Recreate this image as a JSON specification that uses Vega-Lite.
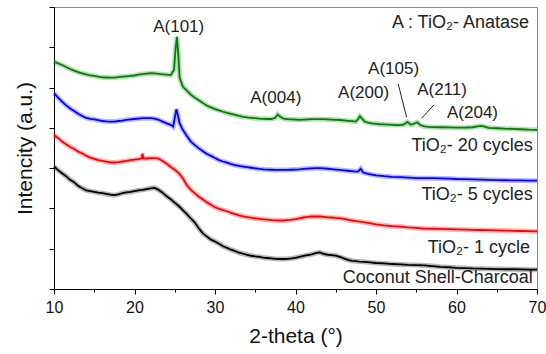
{
  "$schema": "https://vega.github.io/schema/vega-lite/v6.json",
  "width": 483,
  "height": 282,
  "autosize": {"type": "none"},
  "padding": {"left": 54, "top": 7, "right": 9, "bottom": 65},
  "background": "white",
  "config": {
    "font": "Liberation Sans",
    "view": {"stroke": "#8a8a8a", "strokeWidth": 1},
    "axis": {"domainColor": "#000", "tickColor": "#000", "labelColor": "#111", "titleColor": "#111", "grid": false, "titleFontWeight": "normal"}
  },
  "datasets": {
    "curves": [
      {"s":"k","t":10,"i":6.08},{"s":"k","t":10.5,"i":5.9},{"s":"k","t":11,"i":5.75},{"s":"k","t":11.5,"i":5.6},{"s":"k","t":12,"i":5.42},{"s":"k","t":12.5,"i":5.3},{"s":"k","t":13,"i":5.12},{"s":"k","t":13.5,"i":5.0},{"s":"k","t":14,"i":4.9},{"s":"k","t":14.5,"i":4.86},{"s":"k","t":15,"i":4.82},{"s":"k","t":15.5,"i":4.78},{"s":"k","t":16,"i":4.76},{"s":"k","t":16.5,"i":4.72},{"s":"k","t":17,"i":4.68},{"s":"k","t":17.5,"i":4.66},{"s":"k","t":18,"i":4.7},{"s":"k","t":18.5,"i":4.76},{"s":"k","t":19,"i":4.8},{"s":"k","t":19.5,"i":4.82},{"s":"k","t":20,"i":4.86},{"s":"k","t":20.5,"i":4.9},{"s":"k","t":21,"i":4.92},{"s":"k","t":21.5,"i":4.96},{"s":"k","t":22,"i":5.0},{"s":"k","t":22.5,"i":5.02},{"s":"k","t":23,"i":4.92},{"s":"k","t":23.5,"i":4.78},{"s":"k","t":24,"i":4.6},{"s":"k","t":24.5,"i":4.46},{"s":"k","t":25,"i":4.28},{"s":"k","t":25.5,"i":4.12},{"s":"k","t":26,"i":3.92},{"s":"k","t":26.5,"i":3.72},{"s":"k","t":27,"i":3.5},{"s":"k","t":27.5,"i":3.3},{"s":"k","t":28,"i":3.0},{"s":"k","t":28.5,"i":2.76},{"s":"k","t":29,"i":2.6},{"s":"k","t":29.5,"i":2.45},{"s":"k","t":30,"i":2.36},{"s":"k","t":30.5,"i":2.25},{"s":"k","t":31,"i":2.12},{"s":"k","t":31.5,"i":2.04},{"s":"k","t":32,"i":1.95},{"s":"k","t":32.5,"i":1.88},{"s":"k","t":33,"i":1.8},{"s":"k","t":33.5,"i":1.75},{"s":"k","t":34,"i":1.7},{"s":"k","t":34.5,"i":1.65},{"s":"k","t":35,"i":1.62},{"s":"k","t":35.5,"i":1.6},{"s":"k","t":36,"i":1.56},{"s":"k","t":36.5,"i":1.54},{"s":"k","t":37,"i":1.52},{"s":"k","t":37.5,"i":1.5},{"s":"k","t":38,"i":1.49},{"s":"k","t":38.5,"i":1.49},{"s":"k","t":39,"i":1.5},{"s":"k","t":39.5,"i":1.52},{"s":"k","t":40,"i":1.55},{"s":"k","t":40.5,"i":1.6},{"s":"k","t":41,"i":1.64},{"s":"k","t":41.5,"i":1.68},{"s":"k","t":42,"i":1.72},{"s":"k","t":42.5,"i":1.78},{"s":"k","t":43,"i":1.82},{"s":"k","t":43.5,"i":1.74},{"s":"k","t":44,"i":1.7},{"s":"k","t":44.5,"i":1.68},{"s":"k","t":45,"i":1.66},{"s":"k","t":45.5,"i":1.6},{"s":"k","t":46,"i":1.52},{"s":"k","t":46.5,"i":1.45},{"s":"k","t":47,"i":1.4},{"s":"k","t":47.5,"i":1.38},{"s":"k","t":48,"i":1.36},{"s":"k","t":48.5,"i":1.35},{"s":"k","t":49,"i":1.33},{"s":"k","t":49.5,"i":1.31},{"s":"k","t":50,"i":1.29},{"s":"k","t":51,"i":1.27},{"s":"k","t":52,"i":1.24},{"s":"k","t":53,"i":1.22},{"s":"k","t":54,"i":1.2},{"s":"k","t":55,"i":1.19},{"s":"k","t":56,"i":1.17},{"s":"k","t":57,"i":1.14},{"s":"k","t":58,"i":1.1},{"s":"k","t":59,"i":1.08},{"s":"k","t":60,"i":1.05},{"s":"k","t":61,"i":1.04},{"s":"k","t":62,"i":1.02},{"s":"k","t":63,"i":1.01},{"s":"k","t":64,"i":1.0},{"s":"k","t":65,"i":0.99},{"s":"k","t":66,"i":0.98},{"s":"k","t":67,"i":0.98},{"s":"k","t":68,"i":0.97},{"s":"k","t":69,"i":0.96},{"s":"k","t":70,"i":0.96},

      {"s":"r","t":10,"i":7.65},{"s":"r","t":10.5,"i":7.5},{"s":"r","t":11,"i":7.32},{"s":"r","t":11.5,"i":7.18},{"s":"r","t":12,"i":7.05},{"s":"r","t":12.5,"i":6.95},{"s":"r","t":13,"i":6.82},{"s":"r","t":13.5,"i":6.74},{"s":"r","t":14,"i":6.62},{"s":"r","t":14.5,"i":6.52},{"s":"r","t":15,"i":6.46},{"s":"r","t":15.5,"i":6.4},{"s":"r","t":16,"i":6.36},{"s":"r","t":16.5,"i":6.32},{"s":"r","t":17,"i":6.28},{"s":"r","t":17.5,"i":6.28},{"s":"r","t":18,"i":6.3},{"s":"r","t":18.5,"i":6.33},{"s":"r","t":19,"i":6.36},{"s":"r","t":19.5,"i":6.4},{"s":"r","t":20,"i":6.42},{"s":"r","t":20.5,"i":6.45},{"s":"r","t":20.9,"i":6.49},{"s":"r","t":21,"i":6.72},{"s":"r","t":21.1,"i":6.49},{"s":"r","t":21.5,"i":6.48},{"s":"r","t":22,"i":6.5},{"s":"r","t":22.5,"i":6.5},{"s":"r","t":23,"i":6.47},{"s":"r","t":23.5,"i":6.36},{"s":"r","t":24,"i":6.22},{"s":"r","t":24.5,"i":6.06},{"s":"r","t":25,"i":5.92},{"s":"r","t":25.5,"i":5.75},{"s":"r","t":26,"i":5.5},{"s":"r","t":26.5,"i":5.15},{"s":"r","t":27,"i":4.92},{"s":"r","t":27.5,"i":4.75},{"s":"r","t":28,"i":4.58},{"s":"r","t":28.5,"i":4.44},{"s":"r","t":29,"i":4.3},{"s":"r","t":29.5,"i":4.18},{"s":"r","t":30,"i":4.06},{"s":"r","t":30.5,"i":3.98},{"s":"r","t":31,"i":3.92},{"s":"r","t":31.5,"i":3.86},{"s":"r","t":32,"i":3.78},{"s":"r","t":32.5,"i":3.72},{"s":"r","t":33,"i":3.66},{"s":"r","t":33.5,"i":3.61},{"s":"r","t":34,"i":3.57},{"s":"r","t":34.5,"i":3.54},{"s":"r","t":35,"i":3.51},{"s":"r","t":35.5,"i":3.48},{"s":"r","t":36,"i":3.46},{"s":"r","t":36.5,"i":3.44},{"s":"r","t":37,"i":3.42},{"s":"r","t":37.5,"i":3.41},{"s":"r","t":38,"i":3.4},{"s":"r","t":38.5,"i":3.4},{"s":"r","t":39,"i":3.42},{"s":"r","t":39.5,"i":3.44},{"s":"r","t":40,"i":3.47},{"s":"r","t":40.5,"i":3.51},{"s":"r","t":41,"i":3.55},{"s":"r","t":41.5,"i":3.58},{"s":"r","t":42,"i":3.6},{"s":"r","t":42.5,"i":3.61},{"s":"r","t":43,"i":3.6},{"s":"r","t":43.5,"i":3.58},{"s":"r","t":44,"i":3.56},{"s":"r","t":44.5,"i":3.55},{"s":"r","t":45,"i":3.53},{"s":"r","t":45.5,"i":3.52},{"s":"r","t":46,"i":3.48},{"s":"r","t":46.5,"i":3.44},{"s":"r","t":47,"i":3.4},{"s":"r","t":47.5,"i":3.37},{"s":"r","t":48,"i":3.35},{"s":"r","t":49,"i":3.28},{"s":"r","t":50,"i":3.21},{"s":"r","t":51,"i":3.16},{"s":"r","t":52,"i":3.12},{"s":"r","t":53,"i":3.1},{"s":"r","t":54,"i":3.06},{"s":"r","t":55,"i":3.03},{"s":"r","t":56,"i":3.0},{"s":"r","t":57,"i":2.99},{"s":"r","t":58,"i":2.98},{"s":"r","t":59,"i":2.97},{"s":"r","t":60,"i":2.96},{"s":"r","t":61,"i":2.95},{"s":"r","t":62,"i":2.94},{"s":"r","t":63,"i":2.93},{"s":"r","t":64,"i":2.92},{"s":"r","t":65,"i":2.91},{"s":"r","t":66,"i":2.9},{"s":"r","t":67,"i":2.89},{"s":"r","t":68,"i":2.88},{"s":"r","t":69,"i":2.87},{"s":"r","t":70,"i":2.86},

      {"s":"b","t":10,"i":9.72},{"s":"b","t":10.5,"i":9.5},{"s":"b","t":11,"i":9.3},{"s":"b","t":11.5,"i":9.12},{"s":"b","t":12,"i":8.96},{"s":"b","t":12.5,"i":8.84},{"s":"b","t":13,"i":8.7},{"s":"b","t":13.5,"i":8.59},{"s":"b","t":14,"i":8.5},{"s":"b","t":14.5,"i":8.45},{"s":"b","t":15,"i":8.42},{"s":"b","t":15.5,"i":8.38},{"s":"b","t":16,"i":8.34},{"s":"b","t":16.5,"i":8.32},{"s":"b","t":17,"i":8.31},{"s":"b","t":17.5,"i":8.31},{"s":"b","t":18,"i":8.34},{"s":"b","t":18.5,"i":8.36},{"s":"b","t":19,"i":8.4},{"s":"b","t":19.5,"i":8.42},{"s":"b","t":20,"i":8.44},{"s":"b","t":20.5,"i":8.46},{"s":"b","t":21,"i":8.48},{"s":"b","t":21.5,"i":8.48},{"s":"b","t":22,"i":8.48},{"s":"b","t":22.5,"i":8.46},{"s":"b","t":23,"i":8.4},{"s":"b","t":23.5,"i":8.31},{"s":"b","t":24,"i":8.22},{"s":"b","t":24.5,"i":8.15},{"s":"b","t":24.8,"i":8.06},{"s":"b","t":25.0,"i":8.5},{"s":"b","t":25.2,"i":8.92},{"s":"b","t":25.4,"i":8.6},{"s":"b","t":25.6,"i":8.23},{"s":"b","t":26,"i":7.9},{"s":"b","t":26.5,"i":7.6},{"s":"b","t":27,"i":7.32},{"s":"b","t":27.5,"i":7.14},{"s":"b","t":28,"i":6.98},{"s":"b","t":28.5,"i":6.84},{"s":"b","t":29,"i":6.7},{"s":"b","t":29.5,"i":6.61},{"s":"b","t":30,"i":6.5},{"s":"b","t":30.5,"i":6.4},{"s":"b","t":31,"i":6.33},{"s":"b","t":31.5,"i":6.27},{"s":"b","t":32,"i":6.2},{"s":"b","t":32.5,"i":6.15},{"s":"b","t":33,"i":6.11},{"s":"b","t":33.5,"i":6.08},{"s":"b","t":34,"i":6.05},{"s":"b","t":34.5,"i":6.02},{"s":"b","t":35,"i":5.99},{"s":"b","t":35.5,"i":5.96},{"s":"b","t":36,"i":5.94},{"s":"b","t":36.5,"i":5.93},{"s":"b","t":37,"i":5.92},{"s":"b","t":37.5,"i":5.91},{"s":"b","t":38,"i":5.91},{"s":"b","t":38.5,"i":5.91},{"s":"b","t":39,"i":5.91},{"s":"b","t":39.5,"i":5.92},{"s":"b","t":40,"i":5.93},{"s":"b","t":40.5,"i":5.94},{"s":"b","t":41,"i":5.96},{"s":"b","t":41.5,"i":5.98},{"s":"b","t":42,"i":5.99},{"s":"b","t":42.5,"i":6.0},{"s":"b","t":43,"i":6.0},{"s":"b","t":43.5,"i":5.99},{"s":"b","t":44,"i":5.97},{"s":"b","t":44.5,"i":5.95},{"s":"b","t":45,"i":5.93},{"s":"b","t":45.5,"i":5.91},{"s":"b","t":46,"i":5.89},{"s":"b","t":46.5,"i":5.87},{"s":"b","t":47,"i":5.85},{"s":"b","t":47.5,"i":5.83},{"s":"b","t":47.8,"i":5.84},{"s":"b","t":48.1,"i":5.97},{"s":"b","t":48.4,"i":5.78},{"s":"b","t":49,"i":5.72},{"s":"b","t":49.5,"i":5.68},{"s":"b","t":50,"i":5.64},{"s":"b","t":51,"i":5.6},{"s":"b","t":52,"i":5.57},{"s":"b","t":53,"i":5.55},{"s":"b","t":54,"i":5.53},{"s":"b","t":55,"i":5.5},{"s":"b","t":56,"i":5.5},{"s":"b","t":57,"i":5.5},{"s":"b","t":58,"i":5.49},{"s":"b","t":59,"i":5.48},{"s":"b","t":60,"i":5.46},{"s":"b","t":61,"i":5.45},{"s":"b","t":62,"i":5.44},{"s":"b","t":63,"i":5.43},{"s":"b","t":64,"i":5.42},{"s":"b","t":65,"i":5.41},{"s":"b","t":66,"i":5.4},{"s":"b","t":67,"i":5.39},{"s":"b","t":68,"i":5.39},{"s":"b","t":69,"i":5.38},{"s":"b","t":70,"i":5.38},

      {"s":"g","t":10,"i":11.28},{"s":"g","t":10.5,"i":11.2},{"s":"g","t":11,"i":11.12},{"s":"g","t":11.5,"i":11.02},{"s":"g","t":12,"i":10.92},{"s":"g","t":12.5,"i":10.84},{"s":"g","t":13,"i":10.77},{"s":"g","t":13.5,"i":10.71},{"s":"g","t":14,"i":10.65},{"s":"g","t":14.5,"i":10.61},{"s":"g","t":15,"i":10.58},{"s":"g","t":15.5,"i":10.54},{"s":"g","t":16,"i":10.51},{"s":"g","t":16.5,"i":10.5},{"s":"g","t":17,"i":10.49},{"s":"g","t":17.5,"i":10.49},{"s":"g","t":18,"i":10.52},{"s":"g","t":18.5,"i":10.54},{"s":"g","t":19,"i":10.56},{"s":"g","t":19.5,"i":10.58},{"s":"g","t":20,"i":10.6},{"s":"g","t":20.5,"i":10.64},{"s":"g","t":21,"i":10.67},{"s":"g","t":21.5,"i":10.69},{"s":"g","t":22,"i":10.71},{"s":"g","t":22.5,"i":10.7},{"s":"g","t":23,"i":10.68},{"s":"g","t":23.5,"i":10.66},{"s":"g","t":24,"i":10.64},{"s":"g","t":24.5,"i":10.62},{"s":"g","t":24.9,"i":10.87},{"s":"g","t":25.1,"i":11.9},{"s":"g","t":25.27,"i":12.52},{"s":"g","t":25.45,"i":11.6},{"s":"g","t":25.6,"i":10.5},{"s":"g","t":26,"i":10.05},{"s":"g","t":26.5,"i":9.85},{"s":"g","t":27,"i":9.65},{"s":"g","t":27.5,"i":9.5},{"s":"g","t":28,"i":9.37},{"s":"g","t":28.5,"i":9.24},{"s":"g","t":29,"i":9.1},{"s":"g","t":29.5,"i":9.02},{"s":"g","t":30,"i":8.93},{"s":"g","t":30.5,"i":8.87},{"s":"g","t":31,"i":8.8},{"s":"g","t":31.5,"i":8.74},{"s":"g","t":32,"i":8.69},{"s":"g","t":32.5,"i":8.64},{"s":"g","t":33,"i":8.59},{"s":"g","t":33.5,"i":8.55},{"s":"g","t":34,"i":8.52},{"s":"g","t":34.5,"i":8.5},{"s":"g","t":35,"i":8.48},{"s":"g","t":35.5,"i":8.46},{"s":"g","t":36,"i":8.45},{"s":"g","t":36.5,"i":8.44},{"s":"g","t":37,"i":8.44},{"s":"g","t":37.5,"i":8.5},{"s":"g","t":37.8,"i":8.66},{"s":"g","t":38.1,"i":8.55},{"s":"g","t":38.5,"i":8.46},{"s":"g","t":39,"i":8.43},{"s":"g","t":39.5,"i":8.42},{"s":"g","t":40,"i":8.41},{"s":"g","t":40.5,"i":8.4},{"s":"g","t":41,"i":8.41},{"s":"g","t":41.5,"i":8.42},{"s":"g","t":42,"i":8.43},{"s":"g","t":42.5,"i":8.43},{"s":"g","t":43,"i":8.43},{"s":"g","t":43.5,"i":8.43},{"s":"g","t":44,"i":8.42},{"s":"g","t":44.5,"i":8.41},{"s":"g","t":45,"i":8.4},{"s":"g","t":45.5,"i":8.39},{"s":"g","t":46,"i":8.37},{"s":"g","t":46.5,"i":8.35},{"s":"g","t":47,"i":8.33},{"s":"g","t":47.5,"i":8.31},{"s":"g","t":47.8,"i":8.45},{"s":"g","t":48.0,"i":8.58},{"s":"g","t":48.3,"i":8.45},{"s":"g","t":48.6,"i":8.3},{"s":"g","t":49,"i":8.26},{"s":"g","t":49.5,"i":8.22},{"s":"g","t":50,"i":8.2},{"s":"g","t":50.5,"i":8.18},{"s":"g","t":51,"i":8.17},{"s":"g","t":51.5,"i":8.16},{"s":"g","t":52,"i":8.15},{"s":"g","t":52.5,"i":8.14},{"s":"g","t":53,"i":8.14},{"s":"g","t":53.5,"i":8.17},{"s":"g","t":53.9,"i":8.3},{"s":"g","t":54.3,"i":8.16},{"s":"g","t":54.6,"i":8.18},{"s":"g","t":55.1,"i":8.28},{"s":"g","t":55.5,"i":8.14},{"s":"g","t":56,"i":8.07},{"s":"g","t":56.5,"i":8.05},{"s":"g","t":57,"i":8.04},{"s":"g","t":58,"i":8.03},{"s":"g","t":59,"i":8.02},{"s":"g","t":60,"i":8.01},{"s":"g","t":61,"i":8.01},{"s":"g","t":62,"i":8.03},{"s":"g","t":62.6,"i":8.07},{"s":"g","t":63.1,"i":8.1},{"s":"g","t":63.6,"i":8.05},{"s":"g","t":64,"i":8.0},{"s":"g","t":65,"i":7.98},{"s":"g","t":66,"i":7.96},{"s":"g","t":67,"i":7.95},{"s":"g","t":68,"i":7.93},{"s":"g","t":69,"i":7.91},{"s":"g","t":70,"i":7.9}
    ],
    "peaks": [
      {"t": 25.49, "i": 13.02, "label": "A(101)"},
      {"t": 37.55, "i": 9.47, "label": "A(004)"},
      {"t": 48.46, "i": 9.72, "label": "A(200)"},
      {"t": 52.19, "i": 10.91, "label": "A(105)"},
      {"t": 58.2, "i": 9.88, "label": "A(211)"},
      {"t": 61.99, "i": 8.73, "label": "A(204)"}
    ],
    "names": [
      {"t": 69.0, "i": 13.22, "label": "A : TiO₂- Anatase"},
      {"t": 69.48, "i": 7.12, "label": "TiO₂- 20 cycles"},
      {"t": 69.48, "i": 4.68, "label": "TiO₂- 5 cycles"},
      {"t": 69.14, "i": 2.06, "label": "TiO₂- 1 cycle"},
      {"t": 69.48, "i": 0.55, "label": "Coconut Shell-Charcoal"}
    ],
    "leaders": [
      {"t": 52.76, "i": 10.18, "t2": 53.8, "i2": 8.53},
      {"t": 57.2, "i": 9.14, "t2": 55.67, "i2": 8.48}
    ]
  },
  "layer": [
    {
      "data": {"name": "curves"},
      "mark": {"type": "line", "strokeWidth": 5, "opacity": 0.28, "interpolate": "linear"},
      "encoding": {
        "x": {"field": "t", "type": "quantitative", "scale": {"domain": [10, 70], "nice": false},
          "axis": {"values": [10,15,20,25,30,35,40,45,50,55,60,65,70], "labelExpr": "datum.value % 10 === 0 ? datum.label : ''",
            "tickSize": {"condition": {"test": "datum.value % 10 === 0", "value": 5}, "value": 3},
            "labelFontSize": 16, "labelPadding": 5, "title": "2-theta (°)", "titleFontSize": 21, "titlePadding": 10, "labelFlush": false}},
        "y": {"field": "i", "type": "quantitative", "scale": {"domain": [0, 14], "nice": false, "zero": false},
          "axis": {"values": [0,0.5,1,1.5,2,2.5,3,3.5,4,4.5,5,5.5,6,6.5,7,7.5,8,8.5,9,9.5,10,10.5,11,11.5,12,12.5,13,13.5,14], "labels": false,
            "tickSize": {"condition": {"test": "datum.value % 1 === 0", "value": 5}, "value": 3},
            "title": "Intencity (a.u.)", "titleFontSize": 21, "titlePadding": 13}},
        "color": {"field": "s", "type": "nominal", "scale": {"domain": ["k", "r", "b", "g"], "range": ["#000000", "#ff0000", "#0000ff", "#008000"]}, "legend": null},
        "detail": {"field": "s"}
      }
    },
    {
      "data": {"name": "curves"},
      "mark": {"type": "line", "strokeWidth": 1.8},
      "encoding": {
        "x": {"field": "t", "type": "quantitative"},
        "y": {"field": "i", "type": "quantitative"},
        "color": {"field": "s", "type": "nominal", "legend": null}
      }
    },
    {
      "data": {"name": "leaders"},
      "mark": {"type": "rule", "color": "#222", "strokeWidth": 1},
      "encoding": {
        "x": {"field": "t", "type": "quantitative"},
        "y": {"field": "i", "type": "quantitative"},
        "x2": {"field": "t2"},
        "y2": {"field": "i2"}
      }
    },
    {
      "data": {"name": "peaks"},
      "mark": {"type": "text", "align": "center", "baseline": "middle", "fontSize": 17, "color": "#222", "font": "Liberation Sans"},
      "encoding": {
        "x": {"field": "t", "type": "quantitative"},
        "y": {"field": "i", "type": "quantitative"},
        "text": {"field": "label"}
      }
    },
    {
      "data": {"name": "names"},
      "mark": {"type": "text", "align": "right", "baseline": "middle", "fontSize": 18, "color": "#222", "font": "Liberation Sans"},
      "encoding": {
        "x": {"field": "t", "type": "quantitative"},
        "y": {"field": "i", "type": "quantitative"},
        "text": {"field": "label"}
      }
    }
  ]
}
